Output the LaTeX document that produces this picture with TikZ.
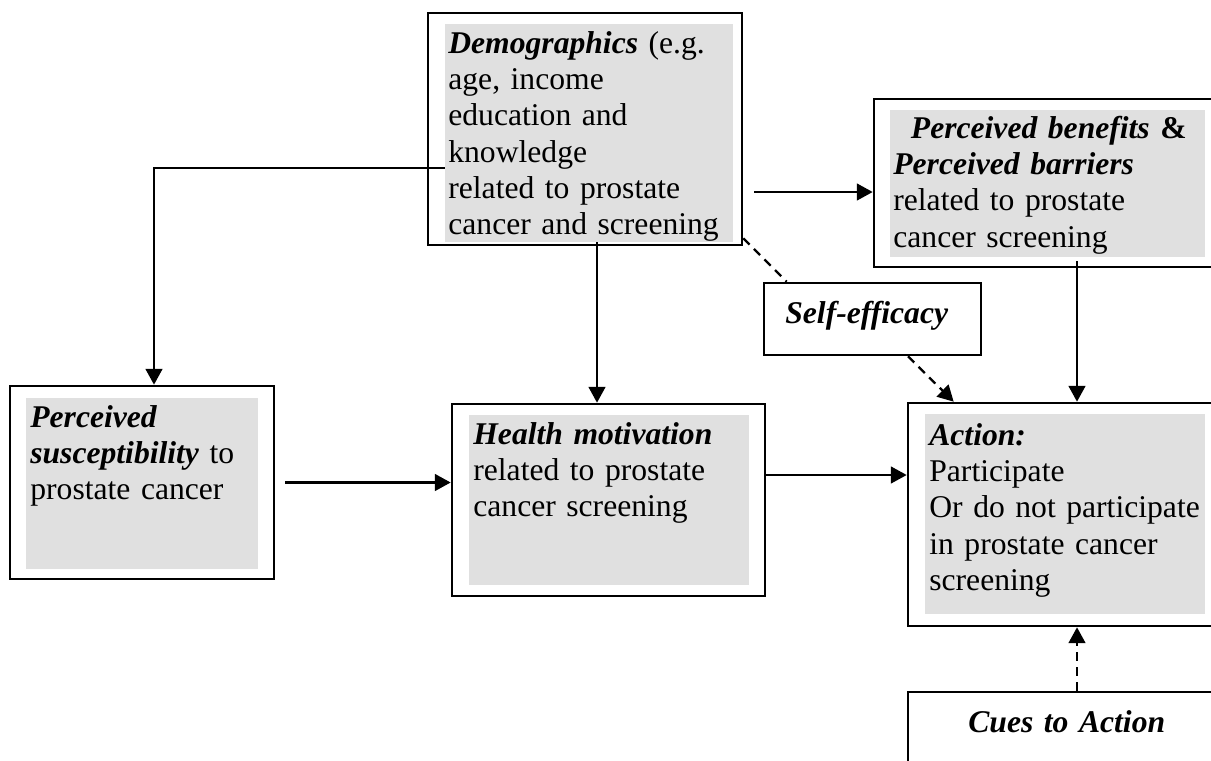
\documentclass[tikz,border=0pt]{standalone}
\usepackage{fontspec}
\setmainfont{Liberation Serif}
\usetikzlibrary{arrows.meta, positioning, fit, calc}

\definecolor{shadegray}{RGB}{224,224,224}

\tikzset{
  boxframe/.style={draw, line width=1.5pt, inner sep=0pt},
  boxfill/.style={fill=shadegray, draw=none, inner sep=0pt},
  boxtext/.style={anchor=base west, inner sep=0pt, text width=8cm, align=left,
    font=\fontsize{18}{20.7}\selectfont},
  link/.style={line width=1.3pt, -{Triangle[length=9pt, width=9.5pt]}},
  dashlink/.style={link, dash pattern=on 5pt off 3.5pt},
}
\newcommand{\keyterm}[1]{\textbf{\textit{#1}}}

\begin{document}
\begin{tikzpicture}[x=0.02cm, y=-0.02cm]
  \useasboundingbox (0,0) rectangle (1211,761);
  \clip (0,0) rectangle (1211,761);

  % Demographics
  \node[boxfill, fit={(445,24) (733,242)}] (demofill) {};
  \node[boxframe, fit={(428,13) (742,245)}] (demo) {};
  \node[boxtext] (demotxt) at (448,53) {\keyterm{Demographics} (e.g.\\ age, income\\ education and\\ knowledge\\ related to prostate\\ cancer and screening};

  % Perceived benefits and barriers
  \node[boxfill, fit={(890,110) (1205,257)}] (benefill) {};
  \node[boxframe, fit={(874,99) (1280,267)}] (bene) {};
  \node[boxtext] (benetxt) at (893,138) {\hspace*{10pt}\keyterm{Perceived benefits} \textbf{\&}\\ \keyterm{Perceived barriers}\\ related to prostate\\ cancer screening};

  % Perceived susceptibility
  \node[boxfill, fit={(26,398) (258,569)}] (percfill) {};
  \node[boxframe, fit={(10,386) (274,579)}] (perc) {};
  \node[boxtext] (perctxt) at (30,427) {\keyterm{Perceived}\\ \keyterm{susceptibility} to\\ prostate cancer};

  % Health motivation
  \node[boxfill, fit={(469,415) (749,585)}] (healthfill) {};
  \node[boxframe, fit={(452,404) (765,596)}] (health) {};
  \node[boxtext] (healthtxt) at (473,444) {\keyterm{Health motivation}\\ related to prostate\\ cancer screening};

  % Self-efficacy
  \node[boxframe, fit={(764,283) (981,355)}] (self) {};
  \node[boxtext] (selftxt) at (785,323) {\keyterm{Self-efficacy}};

  % Action
  \node[boxfill, fit={(925,414) (1205,614)}] (actionfill) {};
  \node[boxframe, fit={(908,403) (1246,626)}] (action) {};
  \node[boxtext] (actiontxt) at (929,445) {\keyterm{Action:}\\ Participate\\ Or do not participate\\ in prostate cancer\\ screening};

  % Cues to action
  \node[boxframe, fit={(908,692) (1246,800)}] (cues) {};
  \node[boxtext] (cuestxt) at (968,732) {\keyterm{Cues to Action}};

  % Connectors
  \draw[link] ([yshift=-0.7cm]demofill.west) -| ([xshift=0.24cm]perc.north);
  \coordinate (demoS) at ([xshift=0.16cm]demofill.south);
  \draw[link] (demoS) -- (demoS |- health.north);
  \coordinate (beneW) at ([yshift=-0.18cm]bene.west);
  \draw[link, shorten <=0.22cm] (demo.east |- beneW) -- (beneW);
  \draw[dashlink, -] ([yshift=0.16cm]demo.south east) -- ([xshift=0.48cm]self.north west);
  \draw[dashlink] ([xshift=0.71cm]self.south) -- ([xshift=0.94cm]action.north west);
  \draw[link] ([yshift=0.14cm]bene.south) -- (action.north);
  \draw[link, shorten <=0.2cm] (perc.east) -- (perc.east -| health.west);
  \coordinate (healthE) at ([yshift=0.5cm]health.east);
  \draw[link] (healthE) -- (healthE -| action.west);
  \draw[dashlink] (cues.north) -- (action.south);
\end{tikzpicture}
\end{document}
